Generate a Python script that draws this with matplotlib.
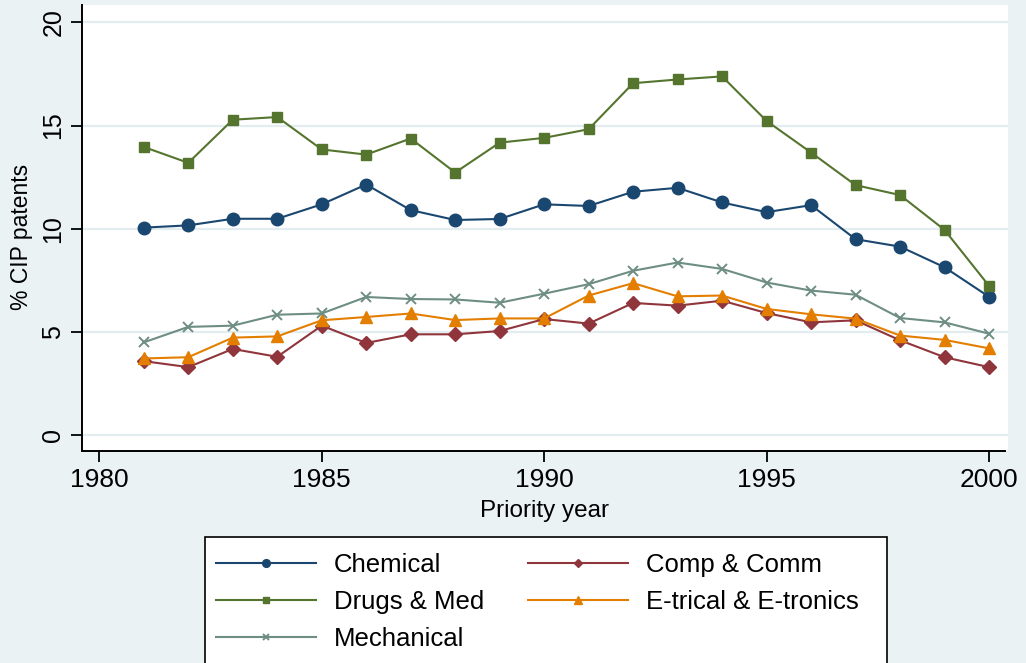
import matplotlib
matplotlib.use("Agg")
import matplotlib.pyplot as plt
from matplotlib.lines import Line2D
from matplotlib.patches import Rectangle

# Share of CIP patents by technology field, priority years 1981-2000
years = list(range(1981, 2001))
chemical = [10.05, 10.16, 10.48, 10.48, 11.18, 12.14, 10.90, 10.42, 10.47, 11.18,
            11.10, 11.79, 11.98, 11.27, 10.80, 11.14, 9.49, 9.13, 8.13, 6.70]
comp_comm = [3.58, 3.29, 4.17, 3.79, 5.30, 4.46, 4.88, 4.88, 5.04, 5.62,
             5.40, 6.40, 6.27, 6.51, 5.91, 5.46, 5.56, 4.59, 3.77, 3.29]
drugs_med = [13.96, 13.19, 15.28, 15.41, 13.84, 13.59, 14.37, 12.72, 14.17, 14.40,
             14.82, 17.05, 17.23, 17.38, 15.22, 13.69, 12.11, 11.63, 9.94, 7.23]
etrical = [3.71, 3.77, 4.72, 4.78, 5.56, 5.72, 5.89, 5.57, 5.65, 5.65,
           6.76, 7.36, 6.72, 6.76, 6.11, 5.85, 5.64, 4.82, 4.61, 4.20]
mechanical = [4.49, 5.24, 5.30, 5.83, 5.89, 6.69, 6.59, 6.57, 6.41, 6.85,
              7.31, 7.96, 8.36, 8.05, 7.39, 7.00, 6.80, 5.67, 5.46, 4.91]

series_names = ["Chemical", "Comp & Comm", "Drugs & Med",
                "E-trical & E-tronics", "Mechanical"]
x_ticks = [1980, 1985, 1990, 1995, 2000]
y_ticks = [0, 5, 10, 15, 20]

BG = "#EAF2F3"
GRID = "#E3ECEF"
styles = [
    dict(color="#1A476F", marker="o", ms=9.0),
    dict(color="#90353B", marker="D", ms=7.0),
    dict(color="#55752F", marker="s", ms=7.5),
    dict(color="#E37E00", marker="^", ms=9.0),
    dict(color="#6E8E84", marker="x", ms=6.5, mew=1.4),
]

plt.rcParams["font.family"] = ["Liberation Sans", "DejaVu Sans"]

W, H = 1026, 663
fig = plt.figure(figsize=(W / 100, H / 100), dpi=100, facecolor=BG)

def fx(px):
    return px / W

def fy(py):
    return 1 - py / H

left, right, top, bottom = 81.7, 1008, 5, 451
ax = fig.add_axes([fx(left), fy(bottom), (right - left) / W, (bottom - top) / H])
ax.set_facecolor("white")

data = [chemical, comp_comm, drugs_med, etrical, mechanical]
for name, vals, st in zip(series_names, data, styles):
    st = dict(st)
    col = st.pop("color")
    ax.plot(years, vals, color=col, lw=1.5, mfc=col, mec=col,
            label=name, zorder=3, **st)

ax.set_xlim(1979.604, 2000.427)
ax.set_ylim(-0.775, 20.84)
ax.set_xticks(x_ticks)
ax.set_yticks(y_ticks)
ax.set_xticklabels([str(v) for v in x_ticks], fontsize=19)
ax.set_yticklabels([str(v) for v in y_ticks], fontsize=18, rotation=90, va="center")

ax.yaxis.grid(True, color=GRID, lw=1.6, zorder=0)
ax.set_axisbelow(True)
for s in ["top", "right"]:
    ax.spines[s].set_visible(False)
for s in ["left", "bottom"]:
    ax.spines[s].set_linewidth(1.4)
    ax.spines[s].set_color("black")
ax.spines["bottom"].set_bounds(1979.604, 2000.36)
ax.tick_params(axis="both", direction="out", length=7.7, width=1.3, colors="black")
ax.tick_params(axis="x", pad=4.5)
ax.tick_params(axis="y", pad=4)

fig.text(fx(22), fy(237), "% CIP patents", rotation=90, ha="center", va="center",
         fontsize=16.5)
fig.text(fx(545), fy(511), "Priority year", ha="center", va="center", fontsize=17.5)

# legend frame, running off the lower edge of the figure
frame = Rectangle((fx(205), fy(680)), fx(887) - fx(205), fy(537) - fy(680),
                  transform=fig.transFigure, facecolor="white", edgecolor="black",
                  lw=1.2, zorder=1)
fig.patches.append(frame)

leg_handles = [Line2D([], [], color=st["color"], lw=1.5, marker=st["marker"],
                      ms=st["ms"] * 0.62, mfc=st["color"], mec=st["color"],
                      mew=st.get("mew", 1.0))
               for st in styles]
order = [0, 2, 4, 1, 3]
leg = fig.legend([leg_handles[i] for i in order], [series_names[i] for i in order],
                 ncol=2, loc="upper left", bbox_to_anchor=(fx(200), fy(537)),
                 frameon=False, fontsize=18.5, handlelength=3.9, handletextpad=0.7,
                 columnspacing=1.7, labelspacing=0.51, borderpad=0.62,
                 borderaxespad=0)
leg.set_zorder(5)

fig.savefig("out.png", dpi=100, facecolor=BG)
